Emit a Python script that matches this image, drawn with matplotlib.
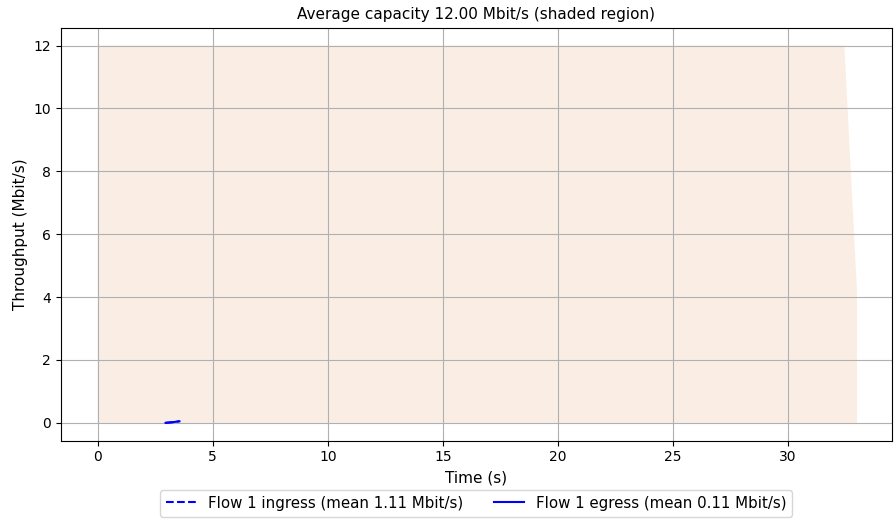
import matplotlib
matplotlib.use('Agg')
import matplotlib.pyplot as plt

# capacity trace (shaded region)
cap_t = [0.0, 5.0, 10.0, 15.0, 20.0, 25.0, 30.0, 32.45, 33.0]
cap_v = [12.0, 12.0, 12.0, 12.0, 12.0, 12.0, 12.0, 12.0, 4.2]

# flow 1 throughput
ingress_t = [2.95, 3.25, 3.55]
ingress_v = [0.0, 0.02, 0.05]
egress_t = [2.95, 3.25, 3.55]
egress_v = [0.0, 0.02, 0.05]

fig = plt.figure(figsize=(8.96, 5.21), dpi=100)
ax = fig.add_axes([0.068, 0.154, 0.927, 0.793])

ax.fill_between(cap_t, 0, cap_v, facecolor='#faeee4', linewidth=0)
ax.plot(ingress_t, ingress_v, color='b', linestyle='--',
        label='Flow 1 ingress (mean 1.11 Mbit/s)')
ax.plot(egress_t, egress_v, color='b', linestyle='-',
        label='Flow 1 egress (mean 0.11 Mbit/s)')

ax.set_xlim(-1.6, 34.5)
ax.set_ylim(-0.57, 12.57)
ax.set_xticks(range(0, 35, 5))
ax.set_yticks(range(0, 13, 2))
ax.grid(True, color='#b0b0b0', linewidth=0.8)
ax.tick_params(labelsize=10)

ax.set_title('Average capacity 12.00 Mbit/s (shaded region)', fontsize=11)
ax.set_xlabel('Time (s)', fontsize=11)
ax.set_ylabel('Throughput (Mbit/s)', fontsize=11)

ax.legend(loc='upper center', bbox_to_anchor=(0.5, -0.1), ncol=2,
          fontsize=10.8, frameon=True)

fig.savefig('out.png', dpi=100)
